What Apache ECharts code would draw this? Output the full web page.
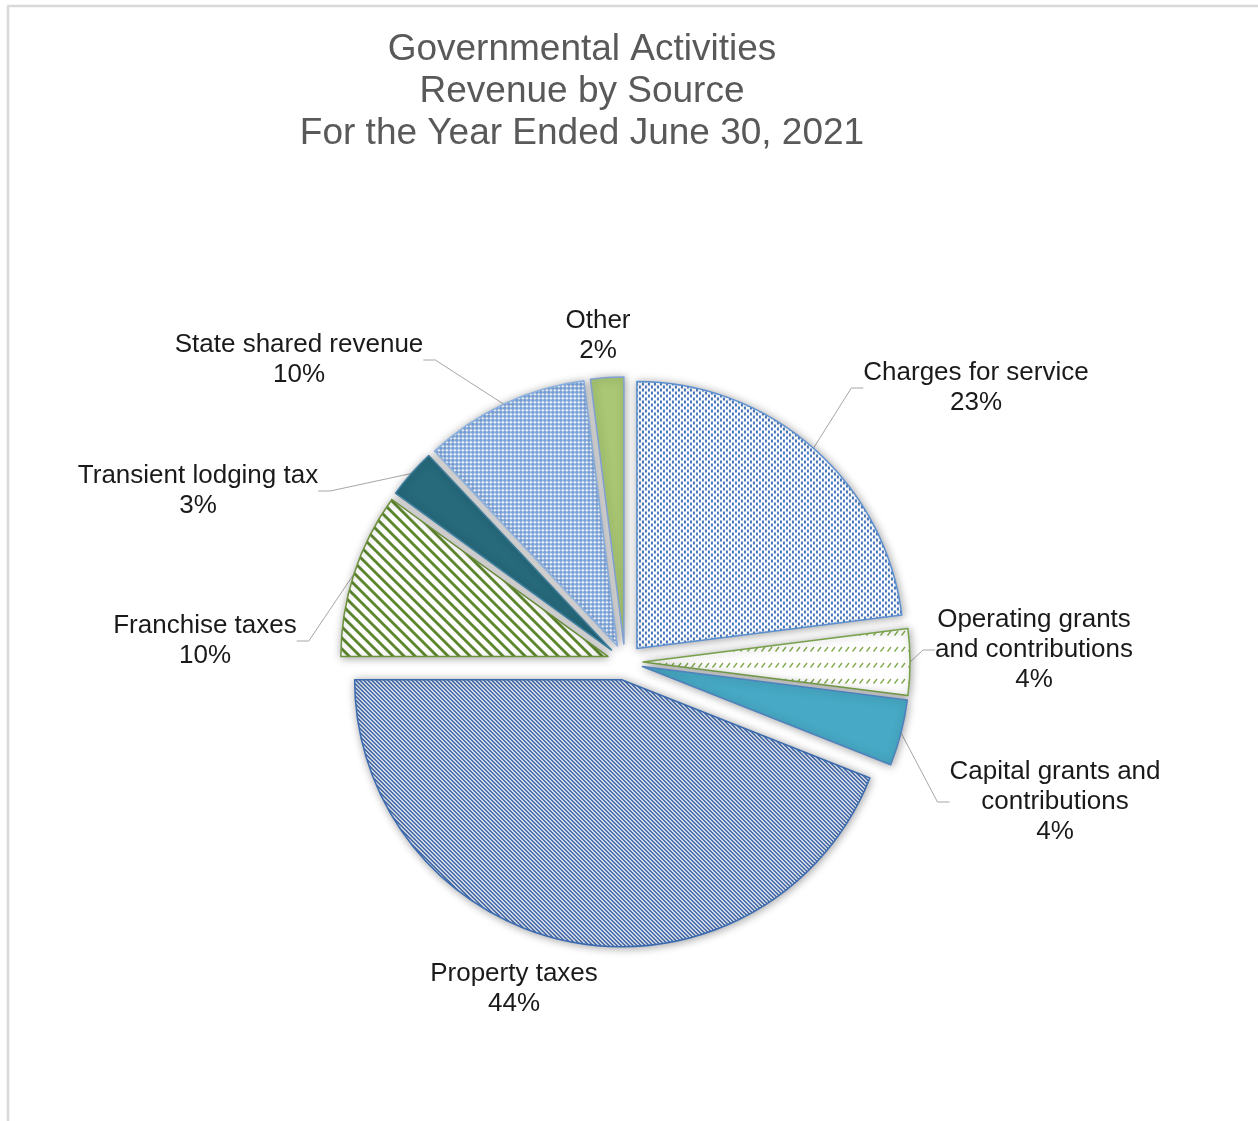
<!DOCTYPE html>
<html>
<head>
<meta charset="utf-8">
<script src="https://cdn.jsdelivr.net/npm/echarts@6/dist/echarts.min.js"></script>
<style>
html,body{margin:0;padding:0;background:#fff;}
#chart{width:1258px;height:1121px;}
</style>
</head>
<body>
<div id="chart"></div>
<script>
// ---- data ----
var titleLines = ['Governmental Activities', 'Revenue by Source', 'For the Year Ended June 30, 2021'];
var categories = ['Charges for service', 'Operating grants\nand contributions', 'Capital grants and\ncontributions',
  'Property taxes', 'Franchise taxes', 'Transient lodging tax', 'State shared revenue', 'Other'];
var percentValues = [23, 4, 4, 44, 10, 3, 10, 2];

// ---- patterns ----
function tile(w, h, bg, draw) {
  var c = document.createElement('canvas');
  c.width = w; c.height = h;
  var g = c.getContext('2d');
  if (bg) { g.fillStyle = bg; g.fillRect(0, 0, w, h); }
  draw(g);
  return { image: c, repeat: 'repeat' };
}
var dotPattern = tile(6, 6, '#ffffff', function (g) {
  g.fillStyle = '#4677bf';
  g.fillRect(0, 0, 2, 3); g.fillRect(3, 3, 2, 3);
});
var dashPattern = tile(7, 16, '#ffffff', function (g) {
  g.strokeStyle = '#7fa84a'; g.lineWidth = 1.3;
  g.beginPath(); g.moveTo(1.5, 11.5); g.lineTo(5, 7); g.stroke();
});
var finePattern = tile(4, 4, '#ffffff', function (g) {
  g.fillStyle = '#1f4d98';
  for (var i = 0; i < 4; i++) { g.fillRect(i, i, 1, 1); g.fillRect((i + 1) % 4, i, 1, 1); }
});
var widePattern = tile(11, 11, '#ffffff', function (g) {
  g.fillStyle = '#5c862c';
  for (var y = 0; y < 11; y++) { for (var k = 0; k < 4; k++) { g.fillRect((y + k) % 11, y, 1, 1); } }
});
var crossPattern = tile(4, 4, '#7aa3da', function (g) {
  g.fillStyle = '#ffffff';
  g.fillRect(2, 1, 1, 1); g.fillRect(1, 2, 3, 1); g.fillRect(2, 3, 1, 1);
});

var sliceStyles = [
  { color: dotPattern, borderColor: '#5b8fd0' },
  { color: dashPattern, borderColor: '#77a04a' },
  { color: '#47a9c5', borderColor: '#4f81bd' },
  { color: finePattern, borderColor: '#3a6bb0' },
  { color: widePattern, borderColor: '#6b8f3a' },
  { color: '#266a7c', borderColor: '#3f7fa0' },
  { color: crossPattern, borderColor: '#8ab0e0' },
  { color: '#a9c774', borderColor: '#7fa0d0' }
];
var showLine = [true, true, true, false, true, true, true, false];
// label block centres relative to the pie centre (layout only)
var labelOffsets = [[351, -274], [409, -12], [430, 140], [-111, 327], [-420, -21], [-427, -171], [-326, -302], [-27, -326]];

var sliceData = categories.map(function (c, i) {
  return {
    name: c, value: percentValues[i], selected: true,
    itemStyle: { color: sliceStyles[i].color, borderColor: sliceStyles[i].borderColor }
  };
});
var labelData = categories.map(function (c, i) {
  return { name: c, value: percentValues[i], labelLine: { show: showLine[i] } };
});

var cx = 625, cy = 662, R = 267, explode = 18;
var fontFam = 'Liberation Sans, Arial, sans-serif';
var chart = echarts.init(document.getElementById('chart'));
chart.setOption({
  animation: false,
  backgroundColor: '#ffffff',
  title: {
    text: titleLines.join('\n'),
    left: 577, top: 24, textAlign: 'center',
    textStyle: { fontFamily: fontFam, fontSize: 37, fontWeight: 'normal', color: '#595959', lineHeight: 42 }
  },
  graphic: [
    { type: 'line', shape: { x1: 7, y1: 6, x2: 1258, y2: 6 }, style: { stroke: '#d9d9d9', lineWidth: 2.5 }, silent: true },
    { type: 'line', shape: { x1: 8, y1: 6, x2: 8, y2: 1121 }, style: { stroke: '#d9d9d9', lineWidth: 2.5 }, silent: true }
  ],
  series: [{
    // labels + leader lines (invisible sectors at the exploded radius)
    type: 'pie',
    z: 1,
    silent: true,
    center: [cx, cy],
    radius: R + explode,
    startAngle: 90,
    clockwise: true,
    avoidLabelOverlap: false,
    emphasis: { disabled: true },
    itemStyle: { color: 'rgba(0,0,0,0)', borderWidth: 0 },
    label: {
      show: true, position: 'outside',
      formatter: function (p) { return p.name + '\n' + p.value + '%'; },
      fontFamily: fontFam, fontSize: 26, lineHeight: 30, color: '#1a1a1a'
    },
    labelLine: { show: true, length: 10, length2: 12, lineStyle: { color: '#a6a6a6', width: 1 } },
    labelLayout: function (p) {
      var o = labelOffsets[p.dataIndex];
      return { x: cx + o[0], y: cy + o[1], align: 'center', verticalAlign: 'middle' };
    },
    data: labelData
  }, {
    // exploded slices
    type: 'pie',
    z: 2,
    center: [cx, cy],
    radius: R,
    startAngle: 90,
    clockwise: true,
    selectedMode: 'multiple',
    selectedOffset: explode,
    emphasis: { disabled: true },
    itemStyle: { borderWidth: 1.5, shadowBlur: 9, shadowColor: 'rgba(0,0,0,0.35)', shadowOffsetX: 1, shadowOffsetY: 1 },
    label: { show: false },
    labelLine: { show: false },
    data: sliceData
  }]
});
</script>
</body>
</html>
